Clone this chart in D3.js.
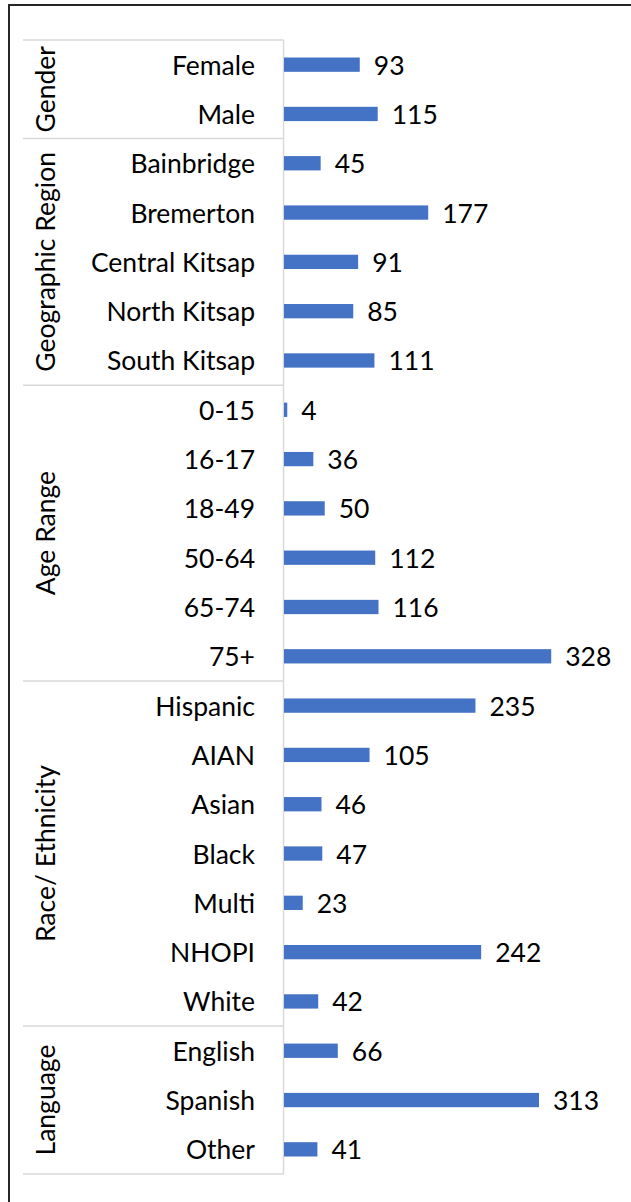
<!DOCTYPE html>
<html>
<head>
<meta charset="utf-8">
<script src="https://cdn.jsdelivr.net/npm/d3@7"></script>
<style>
  body { margin: 0; background: #fff; }
  svg { display: block; }
  text { font-family: Lato, "Open Sans", sans-serif; fill: #000; }
</style>
</head>
<body>
<div id="main"></div>
<script>
var groups = ['Gender', 'Geographic Region', 'Age Range', 'Race/ Ethnicity', 'Language'];
var groupSizes = [2, 5, 6, 7, 3];
var categories = ['Female', 'Male',
  'Bainbridge', 'Bremerton', 'Central Kitsap', 'North Kitsap', 'South Kitsap',
  '0-15', '16-17', '18-49', '50-64', '65-74', '75+',
  'Hispanic', 'AIAN', 'Asian', 'Black', 'Multi', 'NHOPI', 'White',
  'English', 'Spanish', 'Other'];
var values = [93, 115,
  45, 177, 91, 85, 111,
  4, 36, 50, 112, 116, 328,
  235, 105, 46, 47, 23, 242, 42,
  66, 313, 41];

var W = 631, H = 1202;
var plotTop = 40, plotBottom = 1174, axisX = 283.5, tableLeft = 23;
var fontSize = 26.5;

var svg = d3.select('#main').append('svg')
    .attr('width', W).attr('height', H);

// outer frame (runs off the right and bottom edge)
svg.append('rect')
    .attr('x', 9).attr('y', 5).attr('width', W + 10).attr('height', H + 10)
    .attr('fill', 'none').attr('stroke', '#262626').attr('stroke-width', 2);

var y = d3.scaleBand().domain(categories).range([plotTop, plotBottom])
    .paddingInner(0.71).paddingOuter(0.355);
var x = d3.scaleLinear().domain([0, 350]).range([284, 284 + 350 * 0.8147]);

// group separators
var bounds = [0];
groupSizes.forEach(function(n, i) { bounds.push(bounds[i] + n); });
var step = y.step();

svg.selectAll('line.sep').data(bounds).enter().append('line')
    .attr('class', 'sep')
    .attr('x1', tableLeft).attr('x2', axisX)
    .attr('y1', function(b) { return plotTop + b * step; })
    .attr('y2', function(b) { return plotTop + b * step; })
    .attr('stroke', '#d9d9d9').attr('stroke-width', 1.5);

svg.append('line')
    .attr('x1', axisX).attr('x2', axisX).attr('y1', plotTop).attr('y2', plotBottom)
    .attr('stroke', '#d9d9d9').attr('stroke-width', 1.5);

// group labels
svg.selectAll('text.group').data(groups).enter().append('text')
    .attr('class', 'group')
    .attr('transform', function(g, i) {
        var cy = plotTop + (bounds[i] + bounds[i + 1]) / 2 * step;
        return 'translate(45,' + cy + ') rotate(-90)';
    })
    .attr('text-anchor', 'middle').attr('dominant-baseline', 'central')
    .attr('font-size', fontSize)
    .text(function(g) { return g; });

// category labels
svg.selectAll('text.cat').data(categories).enter().append('text')
    .attr('class', 'cat')
    .attr('x', 255)
    .attr('y', function(c) { return y(c) + y.bandwidth() / 2; })
    .attr('text-anchor', 'end').attr('dominant-baseline', 'central')
    .attr('font-size', fontSize)
    .text(function(c) { return c; });

// bars
svg.selectAll('rect.bar').data(values).enter().append('rect')
    .attr('class', 'bar')
    .attr('x', x(0))
    .attr('y', function(v, i) { return y(categories[i]); })
    .attr('width', function(v) { return x(v) - x(0); })
    .attr('height', y.bandwidth())
    .attr('fill', '#4472c4');

// value labels
svg.selectAll('text.val').data(values).enter().append('text')
    .attr('class', 'val')
    .attr('x', function(v) { return x(v) + 14; })
    .attr('y', function(v, i) { return y(categories[i]) + y.bandwidth() / 2; })
    .attr('dominant-baseline', 'central')
    .attr('font-size', fontSize)
    .text(function(v) { return v; });
</script>
</body>
</html>
